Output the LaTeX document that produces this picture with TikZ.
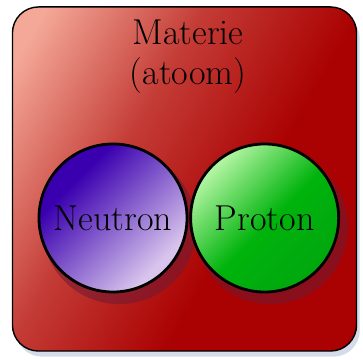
\documentclass[tikz,border=0pt]{standalone}
\usepackage{fontspec}
\definecolor{atomlight}{HTML}{F4A898}
\definecolor{atomdark}{HTML}{AA0202}
\definecolor{neutrondark}{HTML}{3A00B0}
\definecolor{neutronlight}{HTML}{D8C4EC}
\definecolor{protonlight}{HTML}{B0F4A0}
\definecolor{protondark}{HTML}{009A10}
\definecolor{dropshade}{HTML}{6E1A34}
\definecolor{boxshade}{HTML}{D4DCEA}
\usetikzlibrary{positioning, shadows}

\pgfdeclarehorizontalshading{atomshading}{100bp}{color(0bp)=(atomlight); color(20bp)=(atomlight); color(40bp)=(atomdark!65!atomlight); color(60bp)=(atomdark); color(100bp)=(atomdark)}
\pgfdeclarehorizontalshading{neutronshading}{100bp}{color(0bp)=(neutrondark); color(32bp)=(neutrondark); color(72bp)=(neutronlight); color(100bp)=(neutronlight)}
\pgfdeclarehorizontalshading{protonshading}{100bp}{color(0bp)=(protonlight); color(26bp)=(protonlight); color(52bp)=(protondark!75!green); color(100bp)=(protondark)}

\begin{document}
\begin{tikzpicture}[x=0.025cm, y=0.025cm,
    every node/.style={font=\fontsize{25.6pt}{28.5pt}\selectfont}]
  \tikzset{particle/.style={circle, draw=black, line width=2pt,
             minimum size=3.7cm, inner sep=0pt,
             drop shadow={shadow xshift=0.15cm, shadow yshift=-0.22cm,
                          shadow scale=1.04, fill=dropshade, opacity=0.55}}}
  \useasboundingbox (0,0) rectangle (363,360);

  \node[draw=black, line width=1pt, rounded corners=0.65cm,
        minimum width=8.6cm, minimum height=8.6cm,
        shading=atomshading, shading angle=-30,
        drop shadow={shadow xshift=0.08cm, shadow yshift=-0.14cm,
                     fill=boxshade, opacity=1}]
        (atom) at (184.5,181) {};
  \node[align=center] (title) at (188,303) {Materie\\(atoom)};

  \node[particle, shading=neutronshading, shading angle=-45]
        (neutron) at (113,142) {Neutron};
  \node[particle, shading=protonshading, shading angle=-45,
        right=0.02cm of neutron] (proton) {Proton};
\end{tikzpicture}
\end{document}
